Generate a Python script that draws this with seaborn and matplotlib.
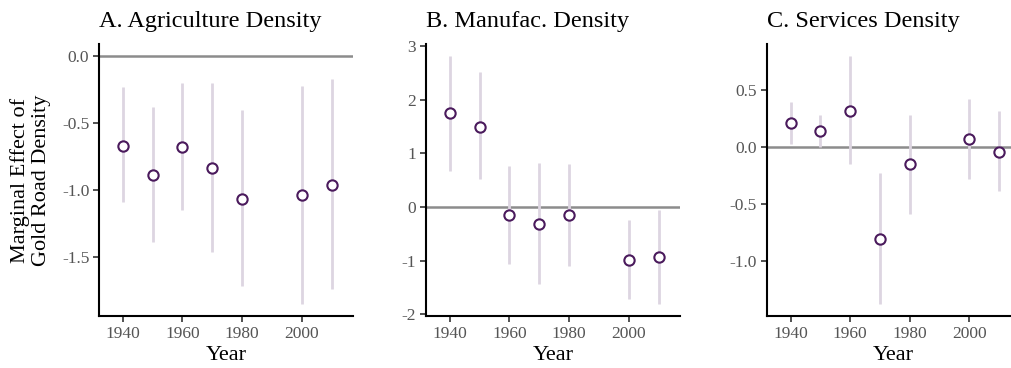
import matplotlib
matplotlib.use("Agg")
import matplotlib.pyplot as plt
import seaborn as sns
import numpy as np
import pandas as pd

years = [1940, 1950, 1960, 1970, 1980, 2000, 2010]

agri_est = [-0.67, -0.89, -0.675, -0.835, -1.065, -1.035, -0.96]
agri_lo = [-1.09, -1.39, -1.15, -1.46, -1.72, -1.85, -1.74]
agri_hi = [-0.23, -0.38, -0.20, -0.20, -0.40, -0.22, -0.17]

manu_est = [1.75, 1.50, -0.155, -0.31, -0.155, -0.99, -0.93]
manu_lo = [0.67, 0.52, -1.07, -1.44, -1.10, -1.71, -1.80]
manu_hi = [2.81, 2.52, 0.76, 0.83, 0.81, -0.25, -0.06]

serv_est = [0.21, 0.14, 0.32, -0.81, -0.15, 0.07, -0.04]
serv_lo = [0.03, 0.00, -0.15, -1.38, -0.59, -0.28, -0.39]
serv_hi = [0.40, 0.28, 0.80, -0.23, 0.28, 0.42, 0.32]

titles = ["A. Agriculture Density", "B. Manufac. Density", "C. Services Density"]
yticks_list = [[0.0, -0.5, -1.0, -1.5], [3, 2, 1, 0, -1, -2], [0.5, 0.0, -0.5, -1.0]]
ytick_labels = [["0.0", "-0.5", "-1.0", "-1.5"], ["3", "2", "1", "0", "-1", "-2"],
                ["0.5", "0.0", "-0.5", "-1.0"]]
xticks = [1940, 1960, 1980, 2000]

sns.set_theme(style="white")
plt.rcParams['font.family'] = ['Liberation Serif', 'DejaVu Serif']

fig = plt.figure(figsize=(10.11, 3.68), dpi=100)
W, H = 1011, 368
top_px, bot_px = 44, 316
lefts = [99, 426, 766.7]
width_px = 254

series = [(agri_est, agri_lo, agri_hi), (manu_est, manu_lo, manu_hi), (serv_est, serv_lo, serv_hi)]

for i, (est, lo, hi) in enumerate(series):
    ax = fig.add_axes([lefts[i] / W, 1 - bot_px / H, width_px / W, (bot_px - top_px) / H])
    df = pd.DataFrame({"Year": years, "est": est, "lo": lo, "hi": hi})
    ax.axhline(0, color="#8c8c8c", lw=1.8, zorder=1)
    ax.vlines(df["Year"], df["lo"], df["hi"], color="#ddd5e1", lw=2.0, zorder=2)
    sns.scatterplot(data=df, x="Year", y="est", ax=ax, s=55, marker="o",
                    facecolor="white", edgecolor="#4a1a5c", linewidth=1.5, zorder=3)
    rng_lo = min(min(lo), 0)
    rng_hi = max(max(hi), 0)
    pad = 0.05 * (rng_hi - rng_lo)
    ax.set_ylim(rng_lo - pad, rng_hi + pad)
    ax.set_xlim(1932, 2017.2)
    ax.set_xticks(xticks)
    ax.set_xticklabels([str(x) for x in xticks])
    ax.set_yticks(yticks_list[i])
    ax.set_yticklabels(ytick_labels[i])
    for s in ["top", "right"]:
        ax.spines[s].set_visible(False)
    for s in ["left", "bottom"]:
        ax.spines[s].set_color("black")
        ax.spines[s].set_linewidth(1.5)
    ax.tick_params(axis="both", which="both", direction="out", length=4, width=1.2,
                   color="#333333", labelsize=12.5, labelcolor="#555555", pad=3,
                   left=True, bottom=True)
    ax.set_xlabel("Year", fontsize=16, color="black", labelpad=3)
    if i == 0:
        ax.set_ylabel("Marginal Effect of\nGold Road Density", fontsize=16,
                      color="black", linespacing=1.12, labelpad=8)
    else:
        ax.set_ylabel("")
    ax.set_title(titles[i], loc="left", fontsize=17.5, color="black", pad=12)

fig.savefig("out.png", dpi=100)
